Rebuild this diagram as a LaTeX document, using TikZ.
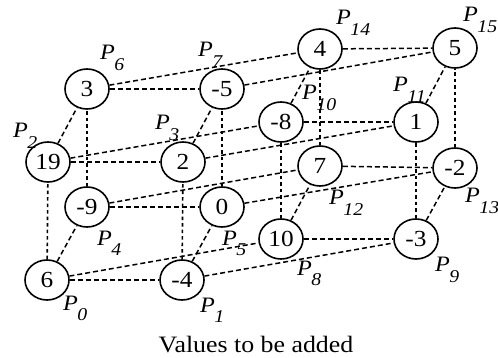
\documentclass[tikz,border=0pt]{standalone}
\usepackage{fontspec}
\setmainfont{Liberation Serif}[FakeStretch=1.1]
\usetikzlibrary{shapes.geometric}
\newcommand\plab[1]{\fontsize{22}{22}\selectfont\textit{P}\kern-0.5pt\raisebox{-10.5pt}{\fontsize{18}{18}\selectfont\textit{#1}}}
\begin{document}
\begin{tikzpicture}[x=1pt,y=-1pt,
  vnode/.style={draw, ellipse, minimum width=44pt, minimum height=40pt, inner sep=0pt, line width=1.6pt, font=\fontsize{23}{23}\selectfont},
  link/.style={line width=1.5pt, dash pattern=on 5pt off 3pt},
  vlink/.style={line width=1.6pt, dash pattern=on 3.5pt off 3pt},
  plabel/.style={anchor=base west, inner sep=0pt}]
\useasboundingbox (0,0) rectangle (498,358);
% base cube
\node[vnode] (p0) at (47,280) {6};
\node[vnode] (p1) at (182,280) {-4};
\node[vnode] (p2) at (48,162) {19};
\node[vnode] (p3) at (183,162) {2};
\node[vnode] (p4) at (87,207) {-9};
\node[vnode] (p5) at (222,207) {0};
\node[vnode] (p6) at (87,89) {3};
\node[vnode] (p7) at (222,89) {-5};
% shifted cube
\node[vnode] (p8) at (281,239) {10};
\node[vnode] (p9) at (416,239) {-3};
\node[vnode] (p10) at (281,122) {-8};
\node[vnode] (p11) at (416,122) {1};
\node[vnode] (p12) at (320,166) {7};
\node[vnode] (p13) at (455,168) {-2};
\node[vnode] (p14) at (320,49) {4};
\node[vnode] (p15) at (455,48) {5};
% edges (non-vertical)
\foreach \a/\b in {p0/p1,p0/p4,p0/p8,p1/p5,p1/p9,p2/p3,p2/p6,p2/p10,
  p3/p7,p3/p11,p4/p5,p4/p12,p5/p13,p6/p7,p6/p14,p7/p15,
  p8/p9,p8/p12,p9/p13,p10/p11,p10/p14,p11/p15,p12/p13,p14/p15}
  \draw[link] (\a) -- (\b);
% vertical edges
\foreach \a/\b in {p0/p2,p1/p3,p4/p6,p5/p7,p8/p10,p9/p11,p12/p14,p13/p15}
  \draw[vlink] (\a) -- (\b);
% labels
\node[plabel] (l0) at (63,310) {\plab{0}};
\node[plabel] (l1) at (200,312) {\plab{1}};
\node[plabel] (l2) at (13,138) {\plab{2}};
\node[plabel] (l3) at (155,130) {\plab{3}};
\node[plabel] (l4) at (97,245) {\plab{4}};
\node[plabel] (l5) at (222,245) {\plab{5}};
\node[plabel] (l6) at (100,60) {\plab{6}};
\node[plabel] (l7) at (198,57) {\plab{7}};
\node[plabel] (l8) at (297,275) {\plab{8}};
\node[plabel] (l9) at (435,272) {\plab{9}};
\node[plabel] (l10) at (302,100) {\plab{10}};
\node[plabel] (l11) at (393,92) {\plab{11}};
\node[plabel] (l12) at (329,205) {\plab{12}};
\node[plabel] (l13) at (465,203) {\plab{13}};
\node[plabel] (l14) at (336,25) {\plab{14}};
\node[plabel] (l15) at (463,22) {\plab{15}};
\node[anchor=base, inner sep=0pt, font=\fontsize{23.5}{23.5}\selectfont] (cap) at (256,352) {Values to be added};
\end{tikzpicture}
\end{document}
